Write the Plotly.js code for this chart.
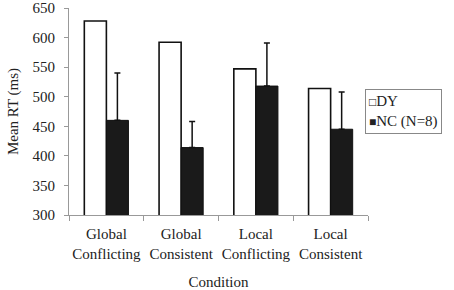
<!DOCTYPE html>
<html><head><meta charset="utf-8">
<script src="https://cdn.plot.ly/plotly-3.0.1.min.js"></script>
<style>html,body{margin:0;padding:0;background:#fff}#chart{width:454px;height:290px}</style>
</head><body><div id="chart"></div>
<script>
const categories = ["Global<br>Conflicting", "Global<br>Consistent", "Local<br>Conflicting", "Local<br>Consistent"];
const seriesNames = ["DY", "NC (N=8)"];
const dyValues = [628, 592, 547, 514];
const ncValues = [460, 414, 518, 445];
const ncErrors = [80, 44, 73, 63];
const yTicks = [300, 350, 400, 450, 500, 550, 600, 650];

const fam = "Liberation Serif, Times New Roman, serif";
const txt = {family: fam, size: 15, color: "#222"};

const traces = [
  {type: "bar", name: seriesNames[0], x: categories, y: dyValues,
   marker: {color: "#fff", line: {color: "#111", width: 1.6}}},
  {type: "bar", name: seriesNames[1], x: categories, y: ncValues,
   marker: {color: "#1a1a1a", line: {color: "#111", width: 1}},
   error_y: {type: "data", array: ncErrors, arrayminus: ncErrors.map(() => 0), symmetric: false,
             color: "#111", thickness: 1.5, width: 3}}
];

const legendText =
  '<span style="font-size:12px">\u25A1</span>' + seriesNames[0] + '<br>' +
  '<span style="font-size:12px">\u25A0</span>' + seriesNames[1];

const layout = {
  width: 454, height: 290,
  margin: {l: 69, r: 86, t: 8, b: 75, autoexpand: false},
  paper_bgcolor: "#fff", plot_bgcolor: "#fff",
  font: txt,
  barmode: "group", bargap: 0.41, bargroupgap: 0,
  showlegend: false,
  annotations: [{
    xref: "paper", yref: "paper", x: 0.99, y: 0.61, xanchor: "left", yanchor: "top",
    text: legendText, align: "left", showarrow: false,
    bordercolor: "#888", borderwidth: 1, borderpad: 3, bgcolor: "#fff",
    font: txt
  }],
  xaxis: {
    type: "category", showline: true, linecolor: "#999", linewidth: 1,
    ticks: "outside", tickson: "boundaries", ticklen: 5, tickcolor: "#999",
    showgrid: false, tickfont: txt, automargin: false, tickangle: 0,
    ticklabelstandoff: 5,
    title: {text: "Condition", standoff: 24, font: txt}
  },
  yaxis: {
    range: [300, 650], tickvals: yTicks, showline: true, linecolor: "#999", linewidth: 1,
    ticks: "outside", ticklen: 4, tickcolor: "#999", showgrid: false, zeroline: false,
    ticklabeloverflow: "allow", automargin: false, ticklabelstandoff: 6,
    tickfont: txt,
    title: {text: "Mean RT (ms)", standoff: 10, font: txt}
  }
};

Plotly.newPlot("chart", traces, layout, {displayModeBar: false, staticPlot: true});
</script></body></html>
